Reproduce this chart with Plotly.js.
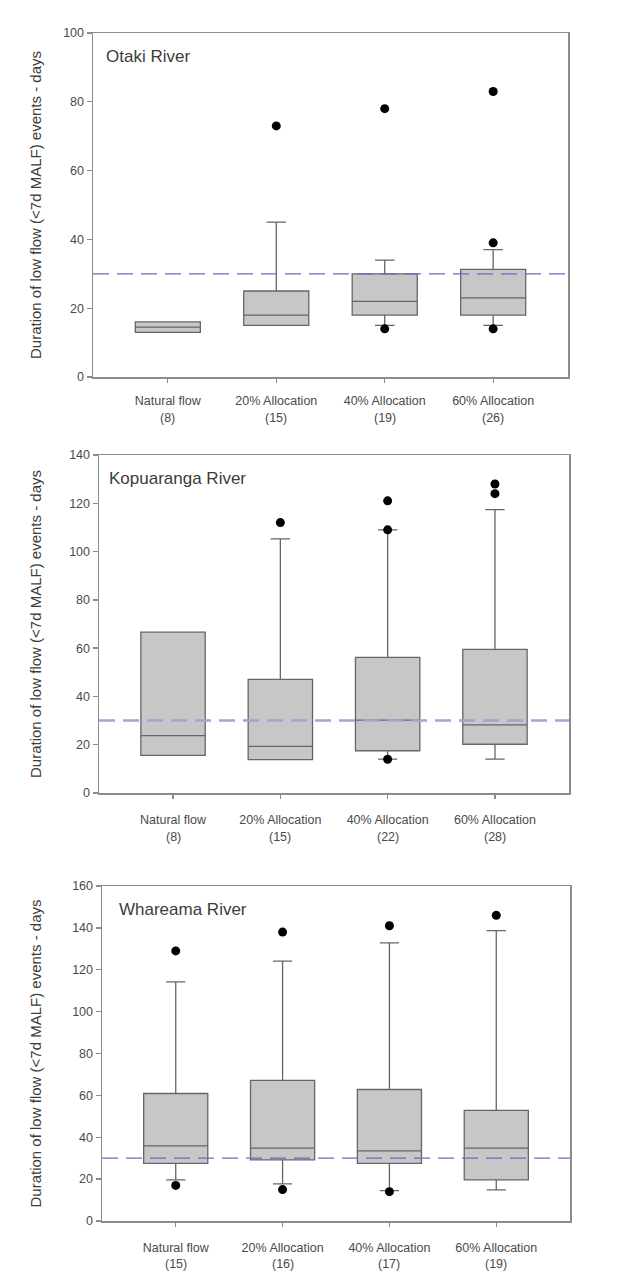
<!DOCTYPE html>
<html>
<head>
<meta charset="utf-8">
<script src="https://cdn.plot.ly/plotly-3.0.1.min.js"></script>
<style>html,body{margin:0;padding:0;background:#fff;}#chart{width:641px;height:1284px;}</style>
</head>
<body>
<div id="chart"></div>
<script>
// ---------- data ----------
const categories = ["Natural flow", "20% Allocation", "40% Allocation", "60% Allocation"];
const riverNames = ["Otaki River", "Kopuaranga River", "Whareama River"];
const thresholdDays = [30, 30, 30];
const yMax = [100, 140, 160];

const otakiCounts = ["(8)", "(15)", "(19)", "(26)"];
const otakiQ1 = [13, 15, 18, 18];
const otakiMedian = [14.5, 18, 22, 23];
const otakiQ3 = [16, 25, 30, 31.3];
const otakiLower = [13, 15, 15, 15];
const otakiUpper = [16, 45, 34, 37];
const otakiOutCat = ["20% Allocation", "40% Allocation", "40% Allocation", "60% Allocation", "60% Allocation", "60% Allocation"];
const otakiOutVal = [73, 78, 14, 83, 39, 14];

const kopuCounts = ["(8)", "(15)", "(22)", "(28)"];
const kopuQ1 = [15.6, 13.8, 17.5, 20.2];
const kopuMedian = [23.8, 19.3, 30.2, 28.2];
const kopuQ3 = [66.6, 47.1, 56.2, 59.5];
const kopuLower = [15.6, 13.8, 14, 14];
const kopuUpper = [66.6, 105.3, 109, 117.4];
const kopuOutCat = ["20% Allocation", "40% Allocation", "40% Allocation", "40% Allocation", "60% Allocation", "60% Allocation"];
const kopuOutVal = [112, 121, 109, 14, 128, 124];

const whareCounts = ["(15)", "(16)", "(17)", "(19)"];
const whareQ1 = [27.5, 29.2, 27.5, 19.6];
const whareMedian = [35.9, 34.8, 33.5, 34.8];
const whareQ3 = [60.9, 67.2, 62.8, 52.8];
const whareLower = [19.6, 17.7, 14.5, 14.9];
const whareUpper = [114.2, 124.1, 132.8, 138.7];
const whareOutCat = ["Natural flow", "Natural flow", "20% Allocation", "20% Allocation", "40% Allocation", "40% Allocation", "60% Allocation"];
const whareOutVal = [129, 17, 138, 15, 141, 14, 146];

// ---------- layout geometry (pixels) ----------
const W = 641, H = 1284;
const panels = [
  {l: 93, r: 568, t: 33, b: 377, titleX: 104, labStand: 7, countOff: 41,
   counts: otakiCounts, q1: otakiQ1, med: otakiMedian, q3: otakiQ3, lo: otakiLower, hi: otakiUpper, oc: otakiOutCat, ov: otakiOutVal, dashW: 1.3, dashC: "#6b6bc4"},
  {l: 99, r: 569, t: 455, b: 793, titleX: 107, labStand: 10, countOff: 44,
   counts: kopuCounts, q1: kopuQ1, med: kopuMedian, q3: kopuQ3, lo: kopuLower, hi: kopuUpper, oc: kopuOutCat, ov: kopuOutVal, dashW: 2.5, dashC: "#a3a3d6"},
  {l: 102, r: 570, t: 886, b: 1221, titleX: 117, labStand: 10, countOff: 43,
   counts: whareCounts, q1: whareQ1, med: whareMedian, q3: whareQ3, lo: whareLower, hi: whareUpper, oc: whareOutCat, ov: whareOutVal, dashW: 1.3, dashC: "#6b6bc4"}
];

const FONT = "Liberation Sans, Arial, sans-serif";
const TXT = "#4a4a4a";
const AX = "#8c8c8c";

const data = [];
const layout = {
  width: W, height: H,
  margin: {l: 0, r: 0, t: 0, b: 0},
  paper_bgcolor: "#ffffff", plot_bgcolor: "#ffffff",
  showlegend: false,
  font: {family: FONT, color: TXT},
  annotations: [], shapes: []
};

panels.forEach((p, i) => {
  const sfx = i === 0 ? "" : String(i + 1);
  const xa = "x" + sfx, ya = "y" + sfx;
  data.push({
    type: "box", xaxis: xa, yaxis: ya,
    x: categories, q1: p.q1, median: p.med, q3: p.q3,
    lowerfence: p.lo, upperfence: p.hi,
    boxpoints: false, width: 0.6, whiskerwidth: 0.3,
    fillcolor: "#c7c7c7", line: {color: "#666666", width: 1.3},
    hoverinfo: "skip"
  });
  data.push({
    type: "scatter", mode: "markers", xaxis: xa, yaxis: ya,
    x: p.oc, y: p.ov,
    marker: {color: "#000000", size: 9},
    hoverinfo: "skip"
  });
  layout["xaxis" + sfx] = {
    domain: [p.l / W, p.r / W], anchor: ya,
    type: "category", categoryorder: "array", categoryarray: categories,
    range: [-0.69, 3.69],
    showgrid: false, zeroline: false,
    showline: true, mirror: true, linecolor: AX, linewidth: 1.5,
    ticks: "outside", ticklen: 4, tickcolor: AX, tickwidth: 1.3,
    ticklabelstandoff: p.labStand,
    tickfont: {family: FONT, size: 12.5, color: TXT}
  };
  layout["yaxis" + sfx] = {
    domain: [1 - p.b / H, 1 - p.t / H], anchor: xa,
    range: [0, yMax[i]], dtick: 20,
    showgrid: false, zeroline: false,
    showline: true, mirror: true, linecolor: AX, linewidth: 1.5,
    ticks: "outside", ticklen: 5, tickcolor: AX, tickwidth: 1.3,
    tickfont: {family: FONT, size: 12.5, color: TXT}
  };
  layout.shapes.push({
    type: "line", xref: xa + " domain", x0: 0, x1: 1,
    yref: ya, y0: thresholdDays[i], y1: thresholdDays[i],
    line: {color: p.dashC, width: p.dashW, dash: "16px,8px"}, layer: "above"
  });
  layout.annotations.push({
    text: riverNames[i], xref: "paper", yref: "paper",
    x: p.titleX / W, y: 1 - (p.t + 23) / H, xanchor: "left", yanchor: "middle",
    showarrow: false, font: {family: FONT, size: 17, color: "#3c3c3c"}
  });
  layout.annotations.push({
    text: "Duration of low flow (<7d MALF) events - days", xref: "paper", yref: "paper",
    x: 35 / W, y: 1 - ((p.t + p.b) / 2) / H, xanchor: "center", yanchor: "middle",
    textangle: -90, showarrow: false, font: {family: FONT, size: 15, color: "#3c3c3c"}
  });
  p.counts.forEach((c, k) => {
    layout.annotations.push({
      text: c, xref: xa, yref: "paper", x: categories[k],
      y: 1 - (p.b + p.countOff) / H, xanchor: "center", yanchor: "middle",
      showarrow: false, font: {family: FONT, size: 12.5, color: TXT}
    });
  });
});

Plotly.newPlot("chart", data, layout, {staticPlot: true, displayModeBar: false});
</script>
</body>
</html>
